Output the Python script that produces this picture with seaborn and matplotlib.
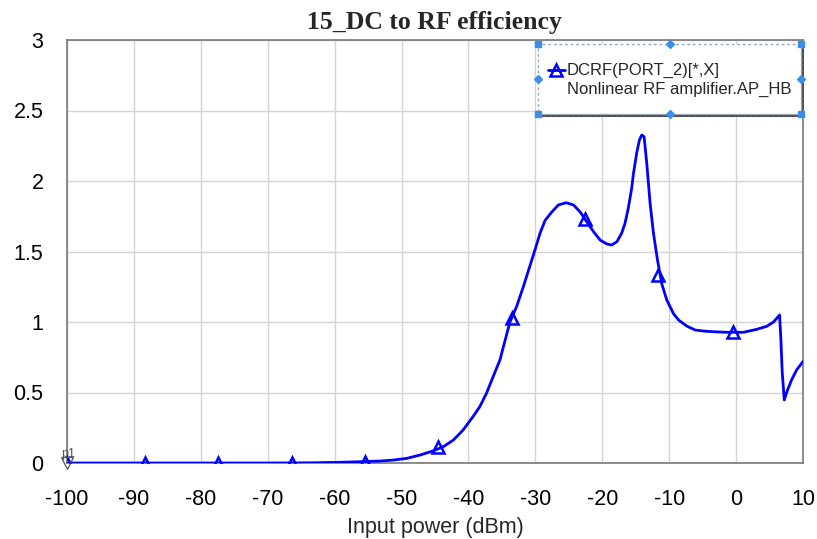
import matplotlib
matplotlib.use("Agg")
import matplotlib.pyplot as plt
import seaborn as sns
import pandas as pd
from matplotlib.patches import Rectangle
from matplotlib.lines import Line2D

# Swept input power (dBm) and DC-to-RF efficiency of the amplifier
input_power_dbm = [-100, -90, -80, -70, -64, -59.2, -56.2, -53.2, -51.2, -49.2, -47.2,
                   -45.2, -43.75, -42.25, -40.8, -39.3, -38.3, -37.3, -36.5, -35.3,
                   -33.8, -32.8, -31.8, -30.8, -30.0, -29.3, -28.55, -27.55, -26.56,
                   -25.4, -24.3, -23.3, -22.3, -21.3, -20.3, -19.3, -18.6, -17.8,
                   -17.1, -16.6, -16.1, -15.6, -15.35, -14.85, -14.45, -14.1, -13.75,
                   -13.35, -12.85, -12.35, -11.75, -11.1, -10.36, -9.37, -8.6, -7.4,
                   -6.1, -4.9, -3.4, -1.4, 1.1, 3.1, 4.6, 5.6, 6.5, 6.7, 6.9, 7.2,
                   7.6, 8.3, 9.05, 10]
efficiency = [0, 0, 0, 0, 0.001, 0.005, 0.009, 0.014, 0.021, 0.033, 0.057,
              0.087, 0.116, 0.163, 0.234, 0.33, 0.40, 0.495, 0.59, 0.73,
              1.0, 1.11, 1.25, 1.40, 1.52, 1.63, 1.72, 1.78, 1.83,
              1.846, 1.83, 1.78, 1.71, 1.64, 1.58, 1.553, 1.546, 1.57,
              1.63, 1.70, 1.81, 1.95, 2.05, 2.20, 2.29, 2.326, 2.314,
              2.125, 1.84, 1.63, 1.44, 1.27, 1.156, 1.06, 1.014, 0.972,
              0.943, 0.936, 0.931, 0.927, 0.927, 0.948, 0.97, 1.0, 1.05, 0.87, 0.64, 0.447,
              0.506, 0.59, 0.66, 0.72]

# Trace symbols
marker_power_dbm = [-100, -88.3, -77.4, -66.4, -55.5, -44.5, -33.5, -22.6, -11.7, -0.45]
marker_efficiency = [0, 0, 0, 0, 0.01, 0.11, 1.03, 1.73, 1.33, 0.93]

x_ticks = list(range(-100, 11, 10))
x_tick_labels = [str(v) for v in x_ticks]
y_ticks = [0, 0.5, 1, 1.5, 2, 2.5, 3]
y_tick_labels = ["0", "0.5", "1", "1.5", "2", "2.5", "3"]

trace_name = "DCRF(PORT_2)[*,X]"
trace_source = "Nonlinear RF amplifier.AP_HB"

BLUE = "#0000ff"

sns.set_style("whitegrid", {"grid.color": "#d4d4d4", "axes.edgecolor": "#787878"})
plt.rcParams["font.family"] = ["Liberation Sans", "DejaVu Sans"]

W, H = 817, 539
fig = plt.figure(figsize=(W / 100, H / 100), dpi=100)
L, R, T, B = 67, 803, 40, 463
ax = fig.add_axes([L / W, 1 - B / H, (R - L) / W, (B - T) / H])

df = pd.DataFrame({"power": input_power_dbm, "eff": efficiency})
sns.lineplot(data=df, x="power", y="eff", ax=ax, color=BLUE, linewidth=2.0,
             sort=False, legend=False, zorder=3)
ax.plot(marker_power_dbm, marker_efficiency, ls="none", marker="^", ms=9,
        mfc="none", mec=BLUE, mew=1.8, zorder=4)

ax.set_xlim(-100, 10)
ax.set_ylim(0, 3)
ax.set_xticks(x_ticks)
ax.set_xticklabels(x_tick_labels)
ax.set_yticks(y_ticks)
ax.set_yticklabels(y_tick_labels)
ax.tick_params(axis="both", length=0, labelsize=15.5, colors="black")
ax.tick_params(axis="x", pad=19)
ax.tick_params(axis="y", pad=17)
ax.grid(True, color="#d4d4d4", linewidth=1)
for s in ax.spines.values():
    s.set_color("#787878")
    s.set_linewidth(1.2)

ax.set_xlabel("Input power (dBm)", fontsize=15.5, labelpad=5)
ax.set_ylabel("")

fig.text(434.5 / W, 1 - 28.5 / H, "15_DC to RF efficiency", ha="center",
         va="baseline", fontsize=18.5, fontweight="bold", family="Liberation Serif")

# Marker p1 at the start of the sweep
ax.plot([-100], [0], marker="v", ms=9, mfc="none", mec="#555555", mew=0.9,
        clip_on=False, zorder=5)
ax.annotate("p1", xy=(-100, 0), xytext=(-4, 2), textcoords="offset points",
            fontsize=9, color="#555555", ha="left", va="bottom", annotation_clip=False)

# Legend box (selected state: dashed outline with grab handles)
def fx(px):
    return (px - L) / (R - L)

def fy(py):
    return (B - py) / (B - T)

bx0, bx1, by0, by1 = fx(538), fx(801), fy(114), fy(44)
tr = ax.transAxes
ax.add_patch(Rectangle((bx0 + 3 / 736, by0 - 3 / 423), bx1 - bx0, by1 - by0,
                       transform=tr, facecolor="#505050", edgecolor="none",
                       zorder=6, clip_on=False))
ax.add_patch(Rectangle((bx0, by0), bx1 - bx0, by1 - by0, transform=tr,
                       facecolor="white", edgecolor="#8fa8c8", linestyle=(0, (2, 2)),
                       linewidth=1.0, zorder=7, clip_on=False))
bxm, bym = (bx0 + bx1) / 2, (by0 + by1) / 2
for (hx, hy, m) in [(bx0, by1, "s"), (bxm, by1, "D"), (bx1, by1, "s"),
                    (bx0, bym, "D"), (bx1, bym, "D"),
                    (bx0, by0, "s"), (bxm, by0, "D"), (bx1, by0, "s")]:
    ax.plot([hx], [hy], marker=m, ms=4, color="#3d8fe6", transform=tr,
            clip_on=False, zorder=8)

ax.add_line(Line2D([fx(548), fx(565)], [fy(70), fy(70)], color=BLUE, lw=2.0,
                   transform=tr, zorder=8, clip_on=False))
ax.plot([fx(556)], [fy(70)], marker="^", ms=9, mfc="none", mec=BLUE, mew=1.8,
        transform=tr, zorder=8, clip_on=False)
ax.text(fx(567), fy(70), trace_name, transform=tr, fontsize=12, va="center",
        ha="left", zorder=9)
ax.text(fx(567), fy(89), trace_source, transform=tr, fontsize=12, va="center",
        ha="left", zorder=9)

fig.savefig("out.png", dpi=100)
